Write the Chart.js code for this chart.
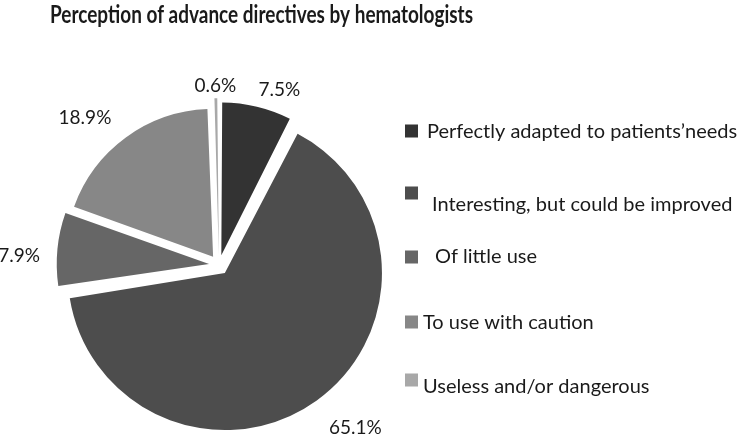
<!DOCTYPE html>
<html>
<head>
<meta charset="utf-8">
<script src="https://cdn.jsdelivr.net/npm/chart.js@4/dist/chart.umd.min.js"></script>
<style>
  html, body { margin: 0; padding: 0; background: #fff; }
  #wrap { width: 744px; height: 435px; }
</style>
</head>
<body>
<div id="wrap"><canvas id="pie-chart"></canvas></div>
<script>
const categories = [
  'Perfectly adapted to patients\u2019needs',
  'Interesting, but could be improved',
  'Of little use',
  'To use with caution',
  'Useless and/or dangerous'
];
const shares = [7.5, 65.1, 7.9, 18.9, 0.6];
const percentLabels = ['7.5%', '65.1%', '7.9%', '18.9%', '0.6%'];
const sliceColors = ['#333333', '#4d4d4d', '#666666', '#878787', '#a8a8a8'];

Chart.defaults.font.family = 'Lato';
Chart.defaults.color = '#1a1a1a';

// percentage labels just outside each slice
const labelNudge = [[16, 10], [17, -2], [-2, 10], [-19, 10], [0, 11]];
const percentLabelPlugin = {
  id: 'percentLabels',
  afterDatasetsDraw(chart) {
    let ctx = chart.ctx;
    let meta = chart.getDatasetMeta(0);
    ctx.save();
    ctx.font = '19px Lato';
    ctx.fillStyle = '#1a1a1a';
    ctx.textAlign = 'center';
    ctx.textBaseline = 'middle';
    meta.data.forEach((arc, i) => {
      let p = arc.getProps(['x', 'y', 'startAngle', 'endAngle', 'outerRadius']);
      let mid = (p.startAngle + p.endAngle) / 2;
      let circ = p.endAngle - p.startAngle;
      let shift = (arc.options.offset || 0) / 4;
      let grow = shift * (1 - Math.sin(Math.min(Math.PI, circ)));
      let text = percentLabels[i];
      let w = ctx.measureText(text).width;
      let cos = Math.cos(mid), sin = Math.sin(mid);
      let d = p.outerRadius + shift + grow + 15 + Math.abs(cos) * w / 2 + Math.abs(sin) * 8;
      ctx.fillText(text, p.x + cos * d + labelNudge[i][0], p.y + sin * d + labelNudge[i][1]);
    });
    ctx.restore();
  }
};

// legend as a layout box on the right, keeps the pie off centre like the original
const sideLegendBox = {
  position: 'right',
  weight: 0,
  fullSize: false,
  options: {},
  isHorizontal() { return false; },
  update(maxWidth, maxHeight) {
    this.width = 85;
    this.height = maxHeight;
  },
  draw() {
    let ctx = this.ctx;
    let boxY = [131, 193, 257, 322, 380];
    let textX = [39, 44, 47, 35, 35];
    let textY = [132, 205, 257, 323, 387];
    ctx.save();
    ctx.font = '20px Lato';
    ctx.textBaseline = 'middle';
    ctx.textAlign = 'left';
    categories.forEach((label, i) => {
      ctx.fillStyle = sliceColors[i];
      ctx.fillRect(this.left + 17, boxY[i] - 6.5, 13, 13);
      ctx.fillStyle = '#1a1a1a';
      ctx.fillText(label, this.left + textX[i], textY[i]);
    });
    ctx.restore();
  }
};

const sideLegendPlugin = {
  id: 'sideLegend',
  beforeInit(chart) {
    sideLegendBox.ctx = chart.ctx;
    Chart.layouts.addBox(chart, sideLegendBox);
  }
};

let pieCtx = document.getElementById('pie-chart').getContext('2d');

let perceptionChart = new Chart(pieCtx, {
  type: 'pie',
  data: {
    labels: categories,
    datasets: [{
      data: shares,
      backgroundColor: sliceColors,
      borderWidth: 0,
      offset: 40
    }]
  },
  options: {
    responsive: true,
    maintainAspectRatio: false,
    animation: false,
    layout: {
      padding: { left: 50, right: 271, top: 0, bottom: 3 }
    },
    plugins: {
      legend: { display: false },
      tooltip: { enabled: false },
      title: {
        display: true,
        text: 'Perception of advance directives by hematologists',
        align: 'start',
        color: '#1a1a1a',
        font: { size: 24, weight: 'bold' },
        padding: { top: 1, bottom: 68 }
      }
    }
  },
  plugins: [percentLabelPlugin, sideLegendPlugin]
});
</script>
</body>
</html>
